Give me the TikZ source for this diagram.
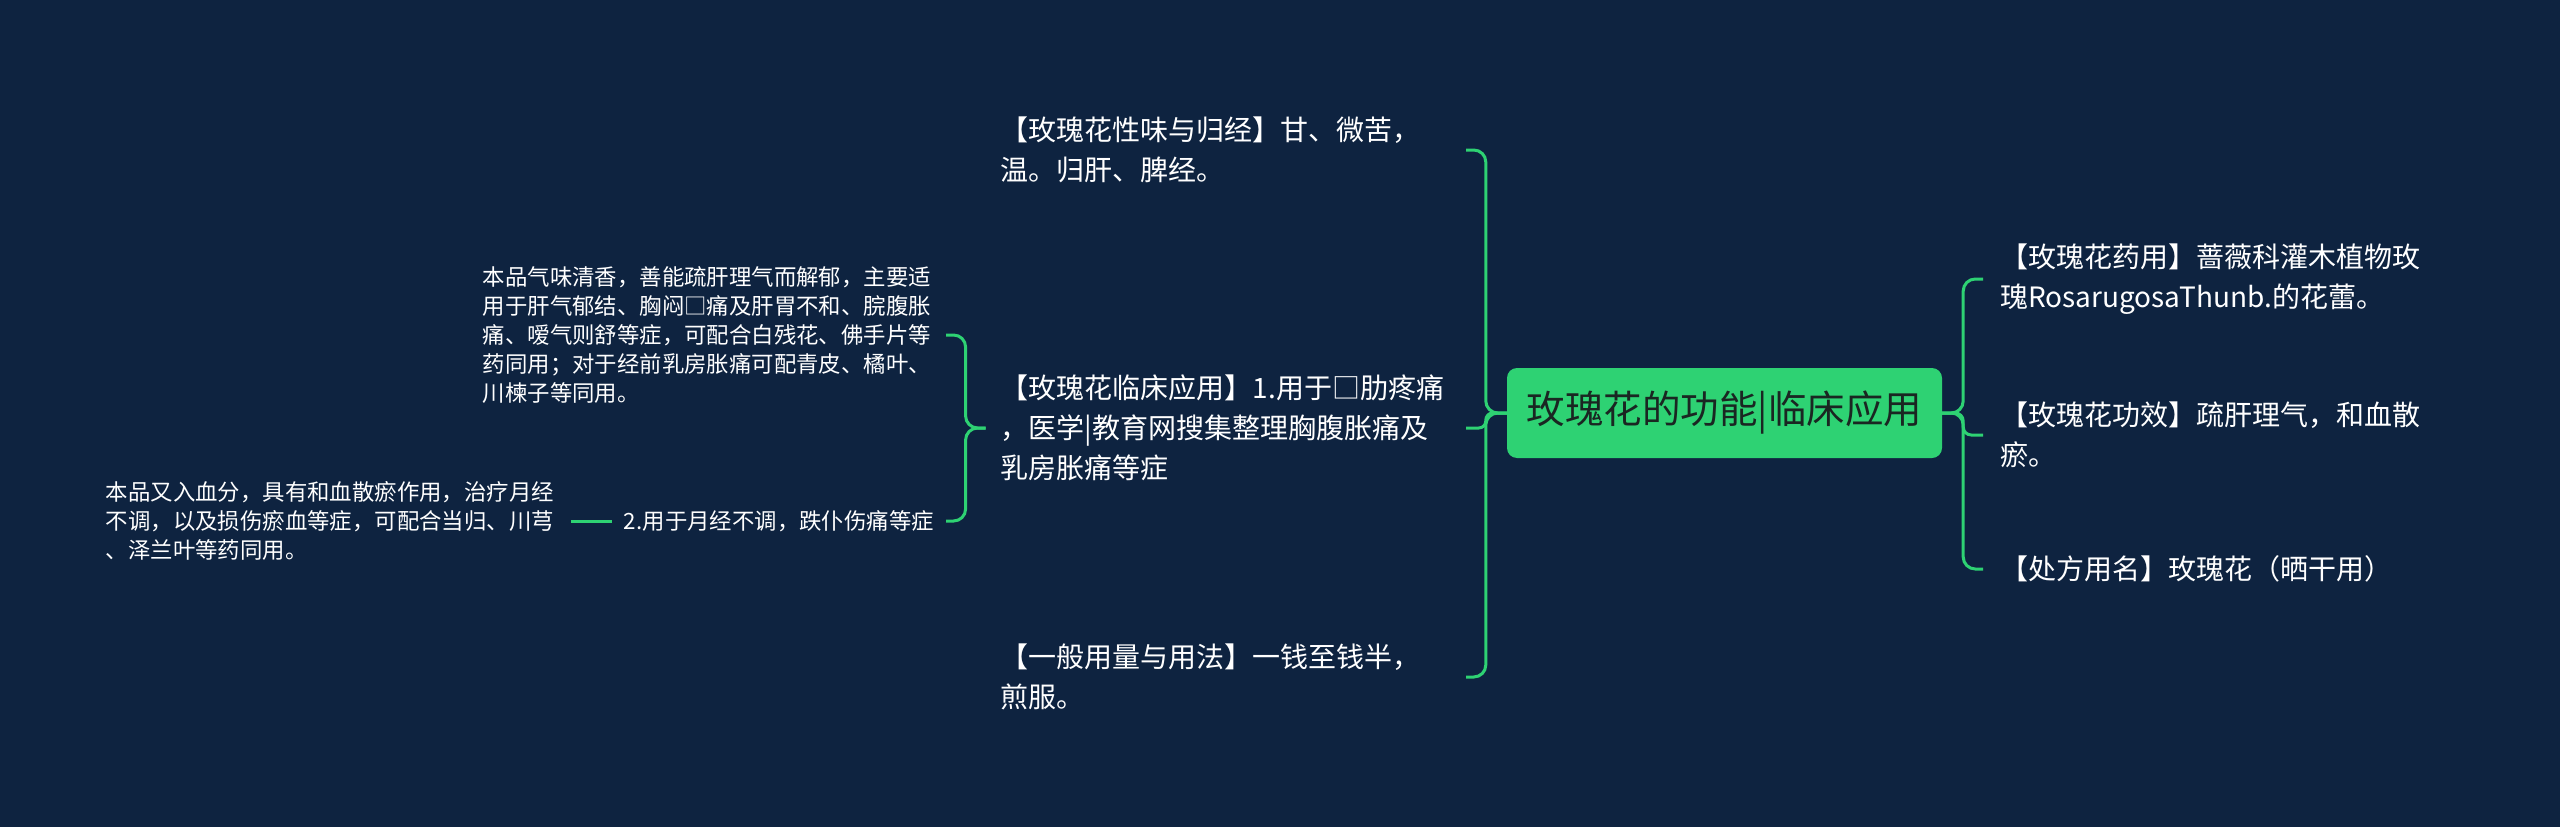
\documentclass[tikz,border=0pt]{standalone}
\usepackage{fontspec}
\setmainfont{Noto Sans CJK SC}
\definecolor{bgc}{RGB}{14,35,64}
\definecolor{grn}{RGB}{46,210,115}
\definecolor{roottxt}{RGB}{26,38,34}
\begin{document}
\begin{tikzpicture}[x=1pt,y=-1pt,
  conn/.style={draw=grn,line width=3pt,rounded corners=12pt},
  leaf/.style={text=white,align=left,inner ysep=2pt},
  big/.style={font=\fontsize{28}{40}\selectfont},
  small/.style={font=\fontsize{22.4}{29}\selectfont}]
\fill[bgc] (0,0) rectangle (2560,827);
\useasboundingbox (0,0) rectangle (2560,827);

\node[fill=grn, rounded corners=10pt, minimum width=435pt, minimum height=90pt,
      text=roottxt, font=\fontsize{38.5}{44}\selectfont] (root) at (1724.5,413) {玫瑰花的功能|临床应用};

% right side
\node[leaf,big,anchor=west,inner xsep=17pt,text width=450pt] (r1) at (1983,279)
  {【玫瑰花药用】蔷薇科灌木植物玫\\瑰RosarugosaThunb.的花蕾。};
\node[leaf,big,anchor=west,inner xsep=17pt,text width=450pt] (r2) at (1983,435)
  {【玫瑰花功效】疏肝理气，和血散\\瘀。};
\node[leaf,big,anchor=west,inner xsep=17pt,text width=450pt] (r3) at (1983,569)
  {【处方用名】玫瑰花（晒干用）};

\draw[conn] (root.east) -- ++(21,0) |- (r1.west);
\draw[conn,rounded corners=8pt] (root.east) -- ++(21,0) |- (r2.west);
\draw[conn] (root.east) -- ++(21,0) |- (r3.west);

% left side
\node[leaf,big,anchor=east,inner xsep=15pt,text width=450pt] (l1) at (1466,150)
  {【玫瑰花性味与归经】甘、微苦，\\温。归肝、脾经。};
\node[leaf,big,anchor=east,inner xsep=15pt,text width=450pt] (l2) at (1466,428)
  {【玫瑰花临床应用】1.用于□肋疼痛\\，医学|教育网搜集整理胸腹胀痛及\\乳房胀痛等症};
\node[leaf,big,anchor=east,inner xsep=15pt,text width=450pt] (l3) at (1466,677)
  {【一般用量与用法】一钱至钱半，\\煎服。};

\draw[conn] (root.west) -- ++(-21,0) |- (l1.east);
\draw[conn,rounded corners=7pt] (root.west) -- ++(-21,0) |- (l2.east);
\draw[conn] (root.west) -- ++(-21,0) |- (l3.east);

% children of l2
\node[leaf,small,anchor=east,inner xsep=13pt,text width=450pt] (c1) at (946,335)
  {本品气味清香，善能疏肝理气而解郁，主要适\\用于肝气郁结、胸闷□痛及肝胃不和、脘腹胀\\痛、嗳气则舒等症，可配合白残花、佛手片等\\药同用；对于经前乳房胀痛可配青皮、橘叶、\\川楝子等同用。};
\node[leaf,small,anchor=east,inner xsep=12pt] (c2) at (946,521)
  {2.用于月经不调，跌仆伤痛等症};
\node[leaf,small,anchor=east,inner xsep=15pt,text width=450pt] (c3) at (571,521)
  {本品又入血分，具有和血散瘀作用，治疗月经\\不调，以及损伤瘀血等症，可配合当归、川芎\\、泽兰叶等药同用。};

\draw[conn] (l2.west) -- ++(-20,0) |- (c1.east);
\draw[conn] (l2.west) -- ++(-20,0) |- (c2.east);
\draw[conn,rounded corners=0pt] (c3.east) -- (c2.west);
\end{tikzpicture}
\end{document}
